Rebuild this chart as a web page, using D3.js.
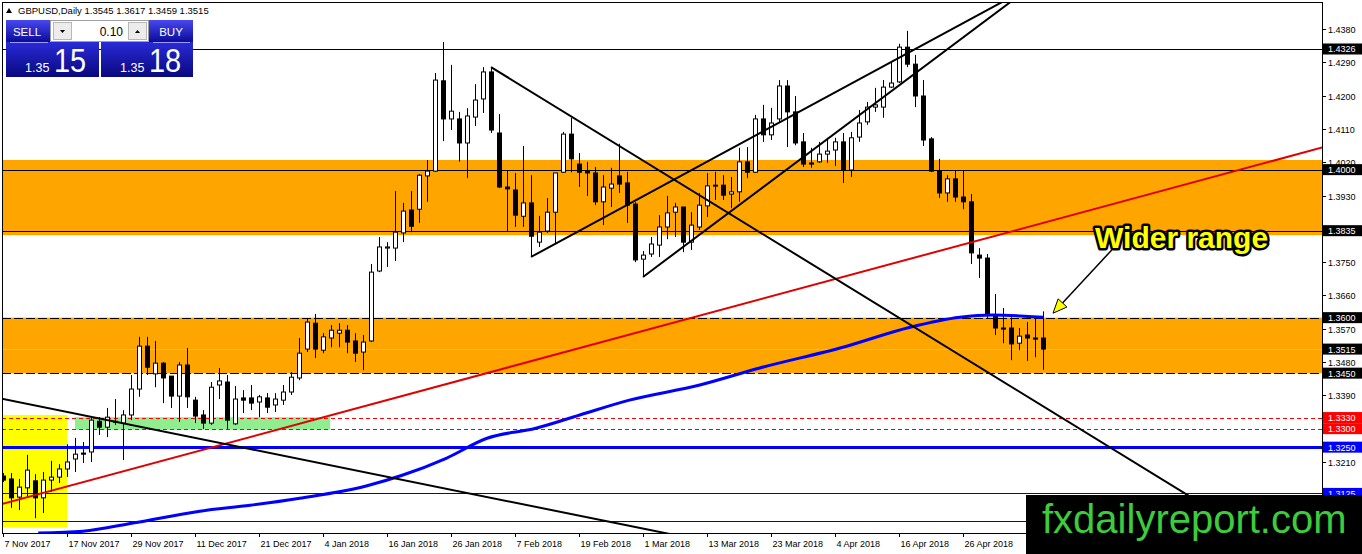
<!DOCTYPE html>
<html><head><meta charset="utf-8">
<script src="https://cdn.jsdelivr.net/npm/d3@7"></script>
<style>html,body{margin:0;padding:0;background:#fff;overflow:hidden}svg{display:block}</style>
</head><body><svg id="c" width="1362" height="554"></svg>
<script>
// ---------- DATA ----------
const symbolTitle = "GBPUSD,Daily";
const opens  = [1.3172,1.3164,1.3115,1.3140,1.3159,1.3113,1.3161,1.3169,1.3191,1.3218,1.3234,1.3237,1.3320,1.3304,1.3320,1.3315,1.3337,1.3407,1.3523,1.3448,1.3477,1.3442,1.3388,1.3472,1.3377,1.3337,1.3315,1.3418,1.3426,1.3313,1.3383,1.3383,1.3372,1.3383,1.3364,1.3377,1.3399,1.3437,1.3515,1.3585,1.3512,1.3545,1.3558,1.3566,1.3537,1.3507,1.3537,1.3726,1.3788,1.3788,1.3829,1.3891,1.3893,1.3983,1.3996,1.4240,1.4137,1.4137,1.4072,1.4142,1.4191,1.4264,1.4099,1.3953,1.3945,1.3874,1.3910,1.3804,1.3834,1.3885,1.3993,1.4096,1.4015,1.3996,1.3991,1.3913,1.3950,1.3983,1.3964,1.3907,1.3758,1.3772,1.3796,1.3845,1.3885,1.3899,1.3804,1.3845,1.3902,1.3956,1.3958,1.3934,1.3940,1.4021,1.3993,1.4137,1.4094,1.4137,1.4226,1.4156,1.4075,1.4018,1.4021,1.4042,1.4053,1.4075,1.3999,1.4088,1.4129,1.4169,1.4169,1.4223,1.4237,1.4331,1.4285,1.4199,1.4083,1.3996,1.3937,1.3975,1.3926,1.3913,1.3769,1.3761,1.3604,1.3572,1.3572,1.3531,1.3553,1.3545,1.3545];
const highs  = [1.3180,1.3180,1.3164,1.3229,1.3177,1.3183,1.3213,1.3204,1.3258,1.3275,1.3264,1.3331,1.3331,1.3356,1.3380,1.3350,1.3445,1.3548,1.3548,1.3537,1.3480,1.3442,1.3480,1.3518,1.3386,1.3350,1.3426,1.3464,1.3445,1.3415,1.3404,1.3418,1.3391,1.3396,1.3396,1.3418,1.3453,1.3545,1.3599,1.3610,1.3558,1.3580,1.3585,1.3580,1.3558,1.3553,1.3745,1.3818,1.3804,1.3942,1.3910,1.3942,1.3988,1.4026,1.4261,1.4345,1.4283,1.4156,1.4166,1.4231,1.4277,1.4277,1.4150,1.3996,1.3991,1.4064,1.3985,1.3875,1.3923,1.3991,1.4102,1.4140,1.4045,1.4021,1.4007,1.3985,1.4005,1.4070,1.3994,1.3912,1.3780,1.3818,1.3877,1.3929,1.3910,1.3899,1.3885,1.3937,1.3991,1.3994,1.3985,1.3980,1.4059,1.4061,1.4148,1.4175,1.4167,1.4242,1.4242,1.4199,1.4099,1.4059,1.4075,1.4086,1.4086,1.4099,1.4102,1.4161,1.4183,1.4221,1.4242,1.4291,1.4340,1.4375,1.4310,1.4242,1.4088,1.4029,1.3985,1.3996,1.3996,1.3934,1.3788,1.3772,1.3664,1.3626,1.3601,1.3572,1.3588,1.3601,1.3617];
const lows   = [1.3156,1.3086,1.3080,1.3115,1.3058,1.3072,1.3129,1.3153,1.3169,1.3183,1.3207,1.3210,1.3283,1.3277,1.3310,1.3215,1.3323,1.3386,1.3445,1.3412,1.3369,1.3356,1.3318,1.3356,1.3315,1.3299,1.3310,1.3380,1.3299,1.3310,1.3342,1.3350,1.3331,1.3342,1.3345,1.3364,1.3391,1.3431,1.3507,1.3491,1.3504,1.3520,1.3520,1.3504,1.3480,1.3458,1.3534,1.3723,1.3737,1.3753,1.3804,1.3831,1.3856,1.3913,1.3994,1.4077,1.4107,1.4021,1.3977,1.4118,1.4153,1.4099,1.3950,1.3834,1.3845,1.3845,1.3764,1.3791,1.3829,1.3801,1.3991,1.3993,1.3953,1.3929,1.3904,1.3850,1.3899,1.3937,1.3856,1.3750,1.3710,1.3764,1.3764,1.3812,1.3818,1.3777,1.3783,1.3837,1.3872,1.3918,1.3918,1.3896,1.3913,1.3977,1.3991,1.4075,1.4080,1.4129,1.4061,1.4066,1.4007,1.4005,1.4018,1.4018,1.4010,1.3964,1.3980,1.4075,1.4121,1.4156,1.4140,1.4221,1.4234,1.4277,1.4169,1.4064,1.3994,1.3923,1.3913,1.3913,1.3893,1.3745,1.3707,1.3599,1.3553,1.3531,1.3485,1.3512,1.3483,1.3493,1.3459];
const closes = [1.3161,1.3113,1.3142,1.3188,1.3113,1.3161,1.3169,1.3191,1.3210,1.3231,1.3231,1.3323,1.3304,1.3331,1.3318,1.3337,1.3407,1.3523,1.3466,1.3477,1.3437,1.3388,1.3472,1.3386,1.3334,1.3315,1.3412,1.3429,1.3323,1.3380,1.3377,1.3369,1.3386,1.3358,1.3380,1.3399,1.3439,1.3504,1.3588,1.3515,1.3548,1.3566,1.3566,1.3534,1.3504,1.3534,1.3723,1.3791,1.3791,1.3831,1.3888,1.3847,1.3985,1.3996,1.4242,1.4137,1.4158,1.4072,1.4145,1.4188,1.4264,1.4107,1.3953,1.3948,1.3877,1.3910,1.3820,1.3831,1.3885,1.3991,1.4096,1.4029,1.3993,1.3991,1.3913,1.3953,1.3961,1.3961,1.3904,1.3756,1.3769,1.3799,1.3845,1.3883,1.3899,1.3804,1.3850,1.3904,1.3956,1.3958,1.3931,1.3940,1.4021,1.3993,1.4137,1.4094,1.4126,1.4226,1.4156,1.4072,1.4015,1.4015,1.4042,1.4050,1.4075,1.3999,1.4086,1.4126,1.4169,1.4175,1.4223,1.4234,1.4331,1.4285,1.4199,1.4080,1.3996,1.3937,1.3975,1.3926,1.3913,1.3775,1.3761,1.3607,1.3572,1.3569,1.3529,1.3550,1.3545,1.3542,1.3515];

// date labels every 8 bars
const xTickLabels = ["7 Nov 2017","17 Nov 2017","29 Nov 2017","11 Dec 2017","21 Dec 2017","4 Jan 2018","16 Jan 2018","26 Jan 2018","7 Feb 2018","19 Feb 2018","1 Mar 2018","13 Mar 2018","23 Mar 2018","4 Apr 2018","16 Apr 2018","26 Apr 2018"];
const barsPerXTick = 8;
const yTickValues = [1.4380,1.4290,1.4200,1.4110,1.4020,1.3930,1.3840,1.3750,1.3660,1.3570,1.3480,1.3390,1.3300,1.3210,1.3120];

// moving average (read points: bar index, value)
const maIndex  = [4.4,10,16.25,24.6,30.9,37.1,45.4,49.9,55.4,60.5,66.6,72.1,78.3,87.1,94.6,105,113.4,119.6,123.75,130];
const maValues = [1.3018,1.3023,1.3045,1.3077,1.3093,1.3112,1.3145,1.3174,1.3220,1.3274,1.3301,1.3337,1.3377,1.3418,1.3464,1.3520,1.3574,1.3601,1.3607,1.3601];

// horizontal levels
const blackLevels = [1.4326,1.4000,1.3835];
const dashedLevels = [1.3600,1.3450];
const bidLevel = 1.3515;
const redLevels = [1.3330,1.3300];
const blueThickLevels = [1.3250];
const blueThinLevels = [1.3125,1.3050];

// zones [low, high]
const upperZone = [1.3823,1.4026];
const lowerZone = [1.3450,1.3600];
const yellowBox = {i:[-0.2,8.0], p:[1.3033,1.3337]};
const greenBox  = {i:[9.0,40.9], p:[1.3297,1.3331]};

// trend lines: two anchor points (bar index, price)
const redTrend      = {i:[0,130],     p:[1.3097,1.3856]};
const leftDownTrend = {i:[0,80],      p:[1.3380,1.3030]};
const longDiagonal  = {i:[61,124.25], p:[1.4277,1.3437]};
const upperRising   = {i:[66,119.6],  p:[1.3764,1.4391]};
const lowerRising   = {i:[80,122.1],  p:[1.3710,1.4391]};

const annotationText = "Wider range";
const annotationAnchor = {i:136.5, p:1.3788};
const arrowFrom = {i:138.6, p:1.3783};
const arrowTo   = {i:131.25, p:1.3612};

// ---------- DRAW ----------
const svg = d3.select('#c');
const PL=2, PT=2, PR=1322, PB=533;
const x = d3.scaleLinear().domain([0,130]).range([3,1043]);
const y = d3.scaleLinear().domain([1.3018,1.4453]).range([PB,PT]);
const AX = "'Liberation Sans', Arial, sans-serif";

svg.append('rect').attr('width',1362).attr('height',554).attr('fill','#fff');
const defs = svg.append('defs');
defs.append('clipPath').attr('id','clip').append('rect').attr('x',PL).attr('y',PT).attr('width',PR-PL).attr('height',PB-PT);
const gr = defs.append('linearGradient').attr('id','pb').attr('x1',0).attr('y1',0).attr('x2',0).attr('y2',1);
gr.append('stop').attr('offset','0%').attr('stop-color','#4848f0');
gr.append('stop').attr('offset','100%').attr('stop-color','#0b0b98');
const gr2 = defs.append('linearGradient').attr('id','pb2').attr('x1',0).attr('y1',0).attr('x2',0).attr('y2',1);
gr2.append('stop').attr('offset','0%').attr('stop-color','#2a2ad8');
gr2.append('stop').attr('offset','100%').attr('stop-color','#08087e');

const g = svg.append('g').attr('clip-path','url(#clip)');

// zones
g.append('rect').attr('x',x(yellowBox.i[0])).attr('width',x(yellowBox.i[1])-x(yellowBox.i[0]))
  .attr('y',y(yellowBox.p[1])).attr('height',y(yellowBox.p[0])-y(yellowBox.p[1])).attr('fill','#ffff00');
g.append('rect').attr('x',x(greenBox.i[0])).attr('width',x(greenBox.i[1])-x(greenBox.i[0]))
  .attr('y',y(greenBox.p[1])).attr('height',y(greenBox.p[0])-y(greenBox.p[1])).attr('fill','#90ee90');
[upperZone, lowerZone].forEach(z=>{
  g.append('rect').attr('x',PL).attr('width',PR-PL).attr('y',y(z[1])).attr('height',y(z[0])-y(z[1])).attr('fill','#ffa500');
});

function hline(p, color, w, dash){
  const yy = Math.round(y(p)) + (w%2 ? 0.5 : 0);
  const l = g.append('line').attr('x1',PL).attr('x2',PR).attr('y1',yy).attr('y2',yy)
    .attr('stroke',color).attr('stroke-width',w);
  if(dash) l.attr('stroke-dasharray',dash);
}
hline(bidLevel,'#c0c0c0',1);
blackLevels.forEach(p=>hline(p,'#000',1));
dashedLevels.forEach(p=>hline(p,'#000',1,'9,3'));
redLevels.forEach(p=>hline(p,'#ff0000',1,'4,3'));
blueThickLevels.forEach(p=>hline(p,'#0000ff',3));
blueThinLevels.forEach(p=>hline(p,'#0000c8',1));

// candles
const idx = d3.range(opens.length);
const cx = i => Math.round(x(i)) + 0.5;
g.append('g').selectAll('line').data(idx).join('line')
  .attr('x1',cx).attr('x2',cx)
  .attr('y1',i=>y(highs[i])).attr('y2',i=>y(lows[i]))
  .attr('stroke','#000').attr('stroke-width',1);
g.append('g').selectAll('rect').data(idx).join('rect')
  .attr('x',i=>cx(i)-2).attr('width',4)
  .attr('y',i=>y(Math.max(opens[i],closes[i])))
  .attr('height',i=>Math.max(1,Math.abs(y(opens[i])-y(closes[i]))))
  .attr('fill',i=>closes[i]>opens[i]?'#fff':'#000')
  .attr('stroke','#000').attr('stroke-width',1);

// moving average
const maPts = maIndex.map((v,k)=>[v,maValues[k]]);
g.append('path').attr('d',d3.line().x(d=>x(d[0])).y(d=>y(d[1])).curve(d3.curveMonotoneX)(maPts))
  .attr('fill','none').attr('stroke','#0000ff').attr('stroke-width',3);

// trend lines
const iL = x.invert(0), iR = x.invert(1362);
function trend(t, color, w, ray){
  const s = (t.p[1]-t.p[0])/(t.i[1]-t.i[0]);
  const a = ray ? t.i[0] : iL;
  const pa = t.p[0] + s*(a-t.i[0]);
  const pb = t.p[0] + s*(iR-t.i[0]);
  g.append('line').attr('x1',x(a)).attr('y1',y(pa)).attr('x2',x(iR)).attr('y2',y(pb))
    .attr('stroke',color).attr('stroke-width',w);
}
trend(redTrend,'#e00000',2,false);
trend(leftDownTrend,'#000',2,false);
trend(longDiagonal,'#000',2,true);
trend(upperRising,'#000',2,true);
trend(lowerRising,'#000',2,true);

// annotation
const ax1=x(arrowFrom.i), ay1=y(arrowFrom.p), ax2=x(arrowTo.i), ay2=y(arrowTo.p);
const ang = Math.atan2(ay2-ay1, ax2-ax1);
const hl=14, hw=6;
const bx = ax2 - hl*Math.cos(ang), by = ay2 - hl*Math.sin(ang);
svg.append('line').attr('x1',ax1).attr('y1',ay1).attr('x2',bx).attr('y2',by).attr('stroke','#000').attr('stroke-width',1.5);
svg.append('path').attr('d',`M${ax2},${ay2}L${bx+hw*Math.sin(ang)},${by-hw*Math.cos(ang)}L${bx-hw*Math.sin(ang)},${by+hw*Math.cos(ang)}Z`)
  .attr('fill','#ffff00').attr('stroke','#000').attr('stroke-width',1);
svg.append('text').attr('x',x(annotationAnchor.i)).attr('y',y(annotationAnchor.p))
  .attr('font-family',AX).attr('font-weight','bold').attr('font-size',30)
  .attr('fill','#ffff00').attr('stroke','#000').attr('stroke-width',5).attr('stroke-linejoin','round')
  .attr('paint-order','stroke').text(annotationText);

// frame
svg.append('rect').attr('x',PL+0.5).attr('y',PT+0.5).attr('width',PR-PL).attr('height',PB-PT)
  .attr('fill','none').attr('stroke','#000').attr('stroke-width',1);

// right axis
const ra = svg.append('g');
const labelled = blackLevels.concat(dashedLevels,[bidLevel],redLevels,blueThickLevels,[blueThinLevels[0]]);
yTickValues.forEach(v=>{
  const yy = Math.round(y(v))+0.5;
  ra.append('line').attr('x1',PR).attr('x2',PR+4).attr('y1',yy).attr('y2',yy).attr('stroke','#000');
  // tick text hidden under a level box is not drawn (the box covers it in the reference)
  const covered = labelled.some(p=>Math.abs(y(p)-y(v))<5);
  if(!covered || v===1.4020)
    ra.append('text').attr('x',PR+6).attr('y',yy+3.5).attr('font-family',AX).attr('font-size',9).attr('fill','#000').text(v.toFixed(4));
});
function levelLabel(p, bg){
  const yy = y(p);
  ra.append('rect').attr('x',PR+1).attr('y',yy-5.5).attr('width',40).attr('height',11).attr('fill',bg);
  ra.append('text').attr('x',PR+6).attr('y',yy+3.5).attr('font-family',AX).attr('font-size',9).attr('fill','#fff').text(p.toFixed(4));
}
blackLevels.forEach(p=>levelLabel(p,'#000'));
dashedLevels.forEach(p=>levelLabel(p,'#000'));
levelLabel(bidLevel,'#000');
redLevels.forEach(p=>levelLabel(p,'#ff0000'));
blueThickLevels.forEach(p=>levelLabel(p,'#0000ff'));
levelLabel(blueThinLevels[0],'#0000ff');

// bottom axis
xTickLabels.forEach((lab,k)=>{
  const xx = Math.round(x(k*barsPerXTick))+0.5;
  svg.append('line').attr('x1',xx).attr('x2',xx).attr('y1',PB).attr('y2',PB+4).attr('stroke','#000');
  svg.append('text').attr('x',xx+1).attr('y',547).attr('font-family',AX).attr('font-size',9).attr('fill','#000').text(lab);
});

// watermark
svg.append('rect').attr('x',1026).attr('y',495).attr('width',336).attr('height',59).attr('fill','#000');
svg.append('text').attr('x',1042).attr('y',533).attr('font-family',AX).attr('font-size',40).attr('fill','#3ccc3c').text('fxdailyreport.com');

// header and trade panel
const hp = svg.append('g');
hp.append('path').attr('d','M6,13L9,8L12,13Z').attr('fill','#000');
hp.append('text').attr('x',18).attr('y',14).attr('font-family',AX).attr('font-size',9.5).attr('fill','#000')
  .text(`${symbolTitle}  ${opens[130].toFixed(4)} ${highs[130].toFixed(4)} ${lows[130].toFixed(4)} ${closes[130].toFixed(4)}`);
hp.append('rect').attr('x',6).attr('y',20).attr('width',44).attr('height',22).attr('fill','url(#pb)');
hp.append('rect').attr('x',149).attr('y',20).attr('width',44).attr('height',22).attr('fill','url(#pb)');
hp.append('rect').attr('x',6).attr('y',42).attr('width',93).attr('height',35).attr('fill','url(#pb2)');
hp.append('rect').attr('x',101).attr('y',42).attr('width',92).attr('height',35).attr('fill','url(#pb2)');
hp.append('line').attr('x1',10).attr('x2',48).attr('y1',42.5).attr('y2',42.5).attr('stroke','#9a9aff');
hp.append('line').attr('x1',153).attr('x2',190).attr('y1',42.5).attr('y2',42.5).attr('stroke','#9a9aff');
hp.append('rect').attr('x',50.5).attr('y',20.5).attr('width',98).attr('height',21).attr('fill','#fff').attr('stroke','#a0a0a0');
hp.append('rect').attr('x',53.5).attr('y',22.5).attr('width',18).attr('height',17).attr('fill','#ececec').attr('stroke','#b8b8b8');
hp.append('rect').attr('x',128.5).attr('y',22.5).attr('width',18).attr('height',17).attr('fill','#ececec').attr('stroke','#b8b8b8');
hp.append('path').attr('d','M60,30L65,30L62.5,33Z').attr('fill','#000');
hp.append('path').attr('d','M135,33L140,33L137.5,30Z').attr('fill','#000');
hp.append('text').attr('x',123).attr('y',36).attr('text-anchor','end').attr('font-family',AX).attr('font-size',12).attr('fill','#000').text('0.10');
hp.append('text').attr('x',27).attr('y',36).attr('text-anchor','middle').attr('font-family',AX).attr('font-size',11.5).attr('fill','#fff').text('SELL');
hp.append('text').attr('x',171).attr('y',36).attr('text-anchor','middle').attr('font-family',AX).attr('font-size',11.5).attr('fill','#fff').text('BUY');
hp.append('text').attr('x',25).attr('y',72).attr('font-family',AX).attr('font-size',12.5).attr('fill','#fff').text('1.35');
hp.append('text').attr('x',120).attr('y',72).attr('font-family',AX).attr('font-size',12.5).attr('fill','#fff').text('1.35');
hp.append('text').attr('transform','translate(54,72) scale(0.85,1)').attr('font-family',AX).attr('font-size',34).attr('fill','#fff').text('15');
hp.append('text').attr('transform','translate(149,72) scale(0.85,1)').attr('font-family',AX).attr('font-size',34).attr('fill','#fff').text('18');
</script></body></html>
